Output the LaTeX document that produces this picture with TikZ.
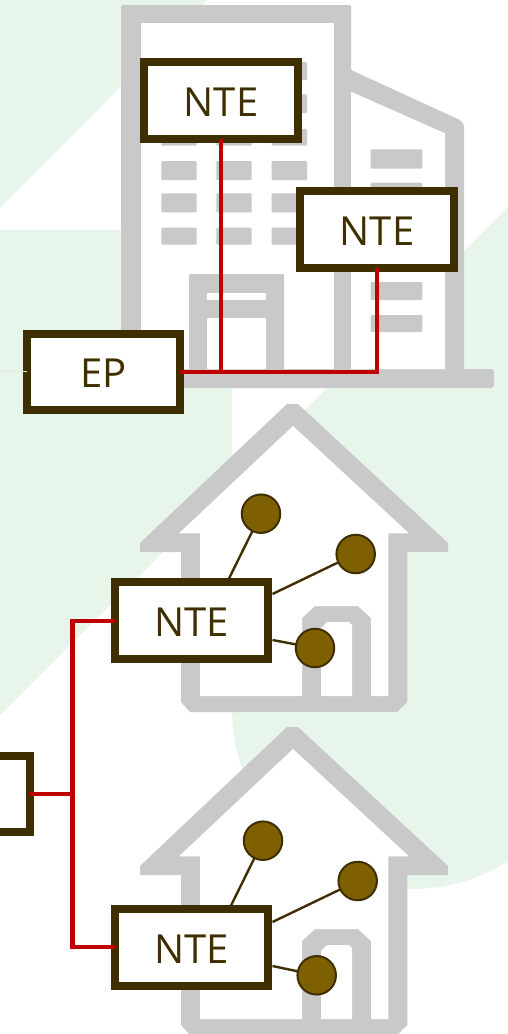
\documentclass[tikz,border=0pt]{standalone}
\usepackage{fontspec}
\setmainfont{Open Sans}
\definecolor{bgreen}{HTML}{E8F5EB}
\definecolor{ggray}{HTML}{C9C9C9}
\definecolor{brownd}{HTML}{3F2F00}
\definecolor{brownf}{HTML}{7F6000}
\definecolor{redl}{HTML}{C00000}
\definecolor{faint}{HTML}{E6E6E6}
\tikzset{
  x=1pt,y=-1pt,
  equip/.style={draw=brownd,fill=white,line width=8pt,minimum width=153.4pt,minimum height=76.7pt,inner sep=0pt,outer sep=0pt,text=brownd,text height=31.5pt,text depth=0pt,font=\fontsize{40}{40}\selectfont},
  redline/.style={draw=redl,line width=4.2pt},
  device/.style={circle,draw=brownd,fill=brownf,line width=2pt,minimum size=38.5pt,inner sep=0pt,outer sep=0pt},
  devline/.style={draw=brownd,line width=2.4pt},
  win/.style={fill=ggray,rounded corners=1pt},
  pics/house/.style={code={
    \fill[ggray] (287,404)--(298,404)--(448,543)--(448,552)--(407.3,552)--(407.3,702)--(397,712)--(190,712)--(181,702)--(181,552)--(140,552)--(140,543)--cycle;
    \fill[white] (293,426)--(409,533.3)--(388.3,533.3)--(388.3,696)--(371,696)--(371,618)--(358,606)--(315,606)--(302,618)--(302,696)--(200,696)--(200,533.3)--(179,533.3)--cycle;
    \fill[white] (321,696)--(321,628)--(327,622)--(349,622)--(352,625)--(352,696)--cycle;
  }}
}
\begin{document}
\begin{tikzpicture}
\clip (0,0) rectangle (508,1034);
\fill[white] (0,0) rectangle (508,1034);
% background
\fill[bgreen] (0,0)--(207,0)--(0,208)--cycle;
\fill[bgreen] (0,230)--(232,230)--(232,483)--(0,715)--cycle;
\fill[bgreen] (508,207)--(232,483)--(232,709) .. controls (232,808.4) and (312.6,889) .. (412,889) .. controls (445.9,889) and (479.3,879.4) .. (508,861.3) -- cycle;
% building
\fill[ggray,rounded corners=1.5pt] (121,5)--(351,5)--(351,70)--(460,120)--(464,125)--(464,372)--(121,372)--cycle;
\fill[ggray,rounded corners=3pt] (121,369)--(494,369)--(494,388)--(121,388)--cycle;
\fill[white] (141.3,23.3)--(334,23.3)--(334,369)--(141.3,369)--cycle;
\fill[white] (351,91.7)--(445,133.3)--(445,369)--(351,369)--cycle;
\foreach \xa/\xb in {161.3/196.7,216.3/251.7,271.7/307}
  \foreach \ya/\yb in {62/80,94.3/113,129/145.7,161/180,193.3/212.3,227.7/244.7}
    \fill[win] (\xa,\ya) rectangle (\xb,\yb);
\foreach \ya/\yb in {149.3/168.7,182.7/200,282/300,315/332}
  \fill[win] (370.7,\ya) rectangle (422.3,\yb);
\fill[ggray,rounded corners=1pt] (189,274) rectangle (284,372);
\fill[white] (207,293) rectangle (266,300);
\fill[white,rounded corners=1pt] (207,318) rectangle (266,369);
% houses
\pic {house};
\pic[yshift=-323pt] {house};
% boxes
\node[equip] (nteA) at (221,100.8) {NTE};
\node[equip] (nteB) at (377,229.5) {NTE};
\node[equip] (ep) at (103.7,372) {EP};
\node[equip] (nteC) at (191.5,620.8) {NTE};
\node[equip] (nteD) at (191.5,947.3) {NTE};
\node[equip] (part) at (-46.5,794) {};
\coordinate (trunk) at (72.5,794);
\coordinate (faintend) at (0,371);
\draw[faint,line width=1pt] (faintend) -- (ep.west |- faintend);
\draw[redline] (nteA.south) -- (nteA.south |- ep.east);
\draw[redline,line join=miter] (ep.east) -| (nteB.south);
\draw[redline] (part.east) -- (trunk);
\draw[redline,line join=miter] (nteC.west) -| (trunk) |- (nteD.west);
% devices
\node[device] (a1) at (261,513.7) {};
\node[device] (a2) at (355.7,554) {};
\node[device] (a3) at (315,648) {};
\node[device] (b1) at (263,840.7) {};
\node[device] (b2) at (357.7,881) {};
\node[device] (b3) at (316.7,975.3) {};
\coordinate (ca1) at (229,578.5);
\coordinate (ca2) at (272.5,594);
\coordinate (ca3) at (272.5,640);
\coordinate (cb1) at (231,905.5);
\coordinate (cb2) at (272.5,922);
\coordinate (cb3) at (272.5,966);
\draw[devline] (a1) -- (ca1);
\draw[devline] (a2) -- (ca2);
\draw[devline] (a3) -- (ca3);
\draw[devline] (b1) -- (cb1);
\draw[devline] (b2) -- (cb2);
\draw[devline] (b3) -- (cb3);
\end{tikzpicture}
\end{document}
